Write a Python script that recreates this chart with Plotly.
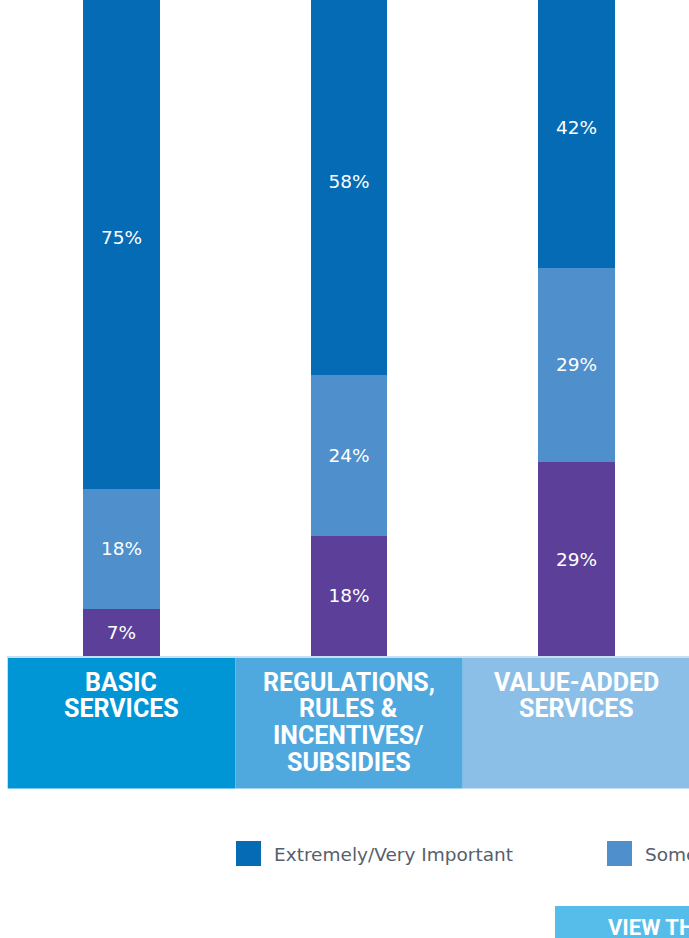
import plotly.graph_objects as go

# ---- data ----
categories = ["BASIC<br>SERVICES", "REGULATIONS,<br>RULES &<br>INCENTIVES/<br>SUBSIDIES", "VALUE-ADDED<br>SERVICES"]
series_names = ["Not Very/Not At All Important", "Somewhat Important", "Extremely/Very Important"]
not_important = [7, 18, 29]
somewhat_important = [18, 24, 29]
extremely_important = [75, 58, 42]
legend_order = ["Extremely/Very Important", "Somewhat Important", "Not Very/Not At All Important"]
button_label = "VIEW THE FULL REPORT"

# ---- styling ----
W, H = 689, 938
series_colors = {"Extremely/Very Important": "#056BB5",
                 "Somewhat Important": "#4F8FCB",
                 "Not Very/Not At All Important": "#5B3F99"}
box_colors = ["#0096D6", "#4FA9DE", "#8CBFE7"]

def py(p):  # pixel y (from top) -> paper fraction
    return (H - p) / H

def px(p):
    return p / W

x_idx = list(range(len(categories)))
fig = go.Figure()
for name, vals in zip(series_names, [not_important, somewhat_important, extremely_important]):
    fig.add_trace(go.Bar(
        x=x_idx, y=vals, name=name, width=0.338,
        marker=dict(color=series_colors[name], line=dict(width=0)),
        text=[f"{v}%" for v in vals], texttemplate="%{text}",
        textposition="inside", insidetextanchor="middle", textangle=0,
        textfont=dict(family="DejaVu Sans", size=18.5, color="white"),
        showlegend=False, hoverinfo="skip",
    ))

shapes = []
annotations = []
# category boxes
for i, cat in enumerate(categories):
    shapes.append(dict(type="rect", xref="x", yref="paper", x0=i - 0.5, x1=i + 0.5 + (0.2 if i == 2 else 0),
                       y0=py(788.5), y1=py(658), fillcolor=box_colors[i], line=dict(width=0), layer="above"))
    for j, line in enumerate(cat.split("<br>")):
        annotations.append(dict(xref="x", yref="paper", x=i, y=py(682 + 26.7 * j), text=line,
                                showarrow=False, xanchor="center", yanchor="middle",
                                font=dict(family="Roboto", size=25, color="white", weight="bold")))
# thin line above boxes
shapes.append(dict(type="rect", xref="paper", yref="paper", x0=px(7), x1=1.05, y0=py(658), y1=py(656),
                   fillcolor="#C8DEF2", line=dict(width=0), layer="above"))

# legend
legend_x = [236, 607, 978]
for name, lx in zip(legend_order, legend_x):
    shapes.append(dict(type="rect", xref="paper", yref="paper", x0=px(lx), x1=px(lx + 25),
                       y0=py(866), y1=py(841), fillcolor=series_colors[name], line=dict(width=0)))
    annotations.append(dict(xref="paper", yref="paper", x=px(lx + 36), y=py(854), text=name,
                            showarrow=False, xanchor="left", yanchor="middle",
                            font=dict(family="DejaVu Sans", size=18.5, color="#56606B")))

# button
shapes.append(dict(type="rect", xref="paper", yref="paper", x0=px(555), x1=1.1, y0=-0.05, y1=py(906),
                   fillcolor="#56BCEA", line=dict(width=0)))
annotations.append(dict(xref="paper", yref="paper", x=px(606), y=py(927), text=button_label,
                        showarrow=False, xanchor="left", yanchor="middle",
                        font=dict(family="Roboto", size=22, color="white", weight="bold")))

fig.update_layout(
    width=W, height=H, margin=dict(l=0, r=0, t=0, b=0),
    barmode="stack", paper_bgcolor="white", plot_bgcolor="white",
    xaxis=dict(range=[-0.534, 2.4945], visible=False, fixedrange=True),
    yaxis=dict(range=[0, 98.06], domain=[py(656), 1], visible=False, fixedrange=True),
    shapes=shapes, annotations=annotations, showlegend=False,
)
fig.write_html("out.html", config={"displayModeBar": False},
               post_script="document.body.style.margin='0';document.body.style.overflow='hidden';")
